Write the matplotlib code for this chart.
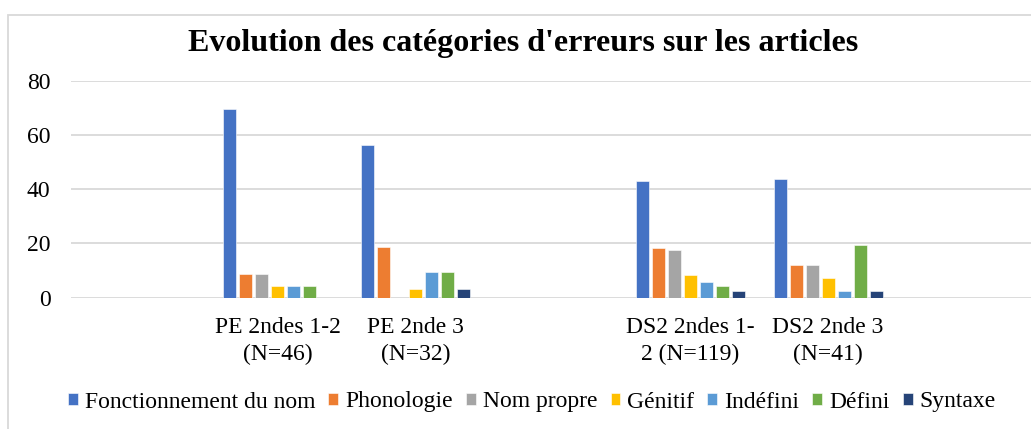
import numpy as np
import matplotlib
matplotlib.use("Agg")
import matplotlib.pyplot as plt
from matplotlib.patches import Rectangle

# données (% par groupe)
groupes = ["", "PE 2ndes 1-2\n(N=46)", "PE 2nde 3\n(N=32)", "",
           "DS2 2ndes 1-\n2 (N=119)", "DS2 2nde 3\n(N=41)", ""]
categories = ["Fonctionnement du nom", "Phonologie", "Nom propre", "Génitif",
              "Indéfini", "Défini", "Syntaxe"]
fonctionnement = [0, 69.6, 56.2, 0, 42.9, 43.9, 0]
phonologie = [0, 8.7, 18.8, 0, 18.5, 12.2, 0]
nom_propre = [0, 8.7, 0.0, 0, 17.6, 12.2, 0]
genitif = [0, 4.3, 3.1, 0, 8.4, 7.3, 0]
indefini = [0, 4.3, 9.4, 0, 5.9, 2.4, 0]
defini = [0, 4.3, 9.4, 0, 4.2, 19.5, 0]
syntaxe = [0, 0.0, 3.1, 0, 2.5, 2.4, 0]
couleurs = ["#4472C4", "#ED7D31", "#A5A5A5", "#FFC000", "#5B9BD5", "#70AD47", "#264478"]

series = [fonctionnement, phonologie, nom_propre, genitif, indefini, defini, syntaxe]

plt.rcParams["font.family"] = "Liberation Serif"

W, H = 1031, 429
fig = plt.figure(figsize=(W / 100, H / 100), dpi=100)
ax = fig.add_axes([71.3 / W, (H - 297.7) / H, 963.2 / W, 217.0 / H])

x = np.arange(len(groupes))
pas = 16 / 137.6
for j, (vals, coul, nom) in enumerate(zip(series, couleurs, categories)):
    ax.bar(x + (j - 3) * pas, vals, width=pas * 0.82, color=coul, label=nom,
           edgecolor="white", linewidth=0.4, zorder=3)

ax.set_xlim(-0.5, len(groupes) - 0.5)
ax.set_ylim(0, 80)
ax.set_yticks([0, 20, 40, 60, 80])
ax.set_xticks(x)
ax.set_xticklabels(groupes, fontsize=17, linespacing=1.38)
ax.tick_params(axis="y", labelsize=17, length=0, pad=15)
ax.tick_params(axis="x", length=0, pad=14)
ax.grid(axis="y", color="#D9D9D9", linewidth=1.3, zorder=0)
for s in ax.spines.values():
    s.set_visible(False)

fig.text(523 / W, 1 - 43 / H, "Evolution des catégories d'erreurs sur les articles",
         ha="center", va="center", fontsize=23, fontweight="bold")

fig.legend(loc="center", bbox_to_anchor=(532 / W, 1 - 402 / H), ncol=7,
           frameon=False, prop={"family": "Liberation Serif", "size": 17},
           handlelength=0.42, handleheight=0.42,
           handletextpad=0.3, columnspacing=0.55, borderpad=0)

fig.patches.append(Rectangle((7.5 / W, -0.2), 2, 1.2 - 15 / H, transform=fig.transFigure,
                             fill=False, edgecolor="#D9D9D9", linewidth=1.3))

fig.savefig("out.png", dpi=100)
